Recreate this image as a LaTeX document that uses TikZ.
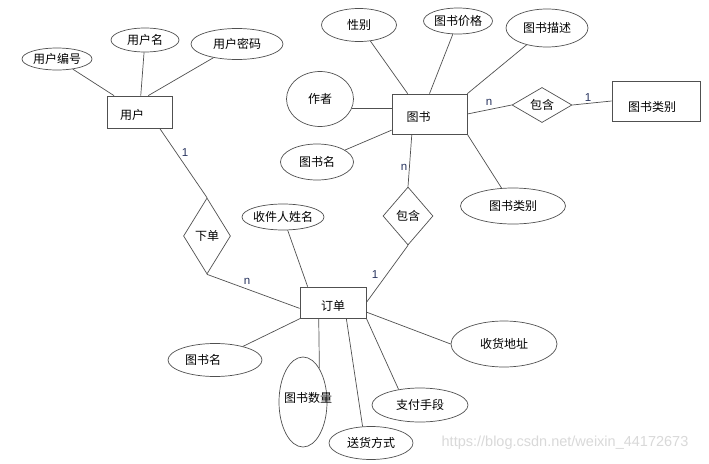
\documentclass[tikz,border=0pt]{standalone}
\usepackage{fontspec}
\newfontfamily\cjk{Noto Sans CJK SC}
\setsansfont{Liberation Sans}
\usetikzlibrary{shapes.geometric}
\definecolor{ln}{RGB}{80,80,80}
\definecolor{cardc}{RGB}{40,52,95}
\tikzset{
ent/.style={draw=ln,rectangle,inner sep=0pt,font=\fontsize{12}{14}\selectfont\cjk},
attr/.style={draw=ln,ellipse,inner sep=0pt,font=\fontsize{12}{14}\selectfont\cjk},
rel/.style={draw=ln,diamond,inner sep=0pt,font=\fontsize{12}{14}\selectfont\cjk},
cardlbl/.style={text=cardc,inner sep=0pt,font=\fontsize{11.5}{13}\selectfont\sffamily},
conn/.style={draw=ln,line width=0.7pt},
every label/.style={inner sep=0pt,font=\fontsize{12}{14}\selectfont\cjk}
}

\begin{document}
\begin{tikzpicture}[x=1pt,y=-1pt,line width=0.7pt]
\useasboundingbox[fill=white] (0,0) rectangle (709,463);
\node[ent,minimum width=65,minimum height=32,label={[xshift=-7.5pt,yshift=-3pt]center:用户}] (yh) at (139.5,112) {};
\node[attr,minimum width=70,minimum height=22,label=center:用户编号] (yhbh) at (57,59) {};
\node[attr,minimum width=68,minimum height=24,label=center:用户名] (yhm) at (145,40) {};
\node[attr,minimum width=92,minimum height=31,label=center:用户密码] (yhmm) at (237,44) {};
\node[ent,minimum width=75,minimum height=40,label={[xshift=-11pt,yshift=-3pt]center:图书}] (ts) at (429.5,114) {};
\node[attr,minimum width=75,minimum height=33,label=center:性别] (xb) at (359,25) {};
\node[attr,minimum width=69,minimum height=26,label=center:图书价格] (tsjg) at (458,21) {};
\node[attr,minimum width=82,minimum height=38,label=center:图书描述] (tsms) at (547,28) {};
\node[attr,minimum width=67,minimum height=55,label=center:作者] (zz) at (320,99) {};
\node[attr,minimum width=73,minimum height=36,label=center:图书名] (tsm) at (317,162) {};
\node[rel,minimum width=60,minimum height=35] (bh1) at (542,105) {包含};
\node[ent,minimum width=88,minimum height=40,label={[xshift=-4pt,yshift=-6pt]center:图书类别}] (tslb) at (656,101) {};
\node[attr,minimum width=105,minimum height=36,label=center:图书类别] (tslbA) at (513,206) {};
\node[rel,minimum width=50,minimum height=58] (bh2) at (408,216) {包含};
\node[rel,minimum width=47,minimum height=76] (xd) at (207,236) {下单};
\node[ent,minimum width=66,minimum height=31,label={[yshift=-3pt]center:订单}] (dd) at (333,302.5) {};
\node[attr,minimum width=82,minimum height=26,label=center:收件人姓名] (sjr) at (283,217) {};
\node[attr,minimum width=94,minimum height=33,label={[xshift=-12pt]center:图书名}] (tsm2) at (215,360) {};
\node[attr,minimum width=48,minimum height=90,label={[xshift=5pt,yshift=4pt]center:图书数量}] (tssl) at (303,402) {};
\node[attr,minimum width=84,minimum height=33,label=center:送货方式] (shfs) at (371,443) {};
\node[attr,minimum width=96,minimum height=34,label=center:支付手段] (zfsd) at (420,405) {};
\node[attr,minimum width=106,minimum height=46,label=center:收货地址] (shdz) at (504,344) {};

\draw[conn] (yhbh) -- (yh);
\draw[conn] (yhm) -- (yh);
\draw[conn] (yhmm) -- (yh.62);
\draw[conn] (yh.-39) -- (xd.north);
\draw[conn] (xd.south) -- (dd.190);
\draw[conn] (sjr) -- (dd.148);
\draw[conn] (ts.-131) -- (bh2.north);
\draw[conn] (bh2.south) -- (dd.east);
\draw[conn] (tsm2) -- (dd);
\draw[conn] (dd.-132) -- (tssl.64.5);
\draw[conn] (dd.-50) -- (shfs.117);
\draw[conn] (dd.south east) -- (zfsd.144);
\draw[conn] (dd.-16) -- (shdz.west);
\draw[conn] (ts.east) -- (bh1.west);
\draw[conn] (bh1.east) -- (tslb.west);
\draw[conn] (ts.south east) -- (tslbA);
\draw[conn] (xb) -- (ts.137);
\draw[conn] (tsjg) -- (ts.north);
\draw[conn] (tsms) -- (ts.north east);
\draw[conn] (zz.-17) -- (zz.-17 -| ts.west);
\draw[conn] (tsm) -- (ts);

\node[cardlbl] (c1) at (185,153) {1};
\node[cardlbl] (c2) at (247,281) {n};
\node[cardlbl] (c3) at (404,167) {n};
\node[cardlbl] (c4) at (375,275) {1};
\node[cardlbl] (c5) at (489,102) {n};
\node[cardlbl] (c6) at (588,98) {1};

\node[text=gray!30,inner sep=0pt,font=\fontsize{14.5}{16}\selectfont\sffamily] (wm) at (565,443) {https://blog.csdn.net/weixin\_44172673};
\end{tikzpicture}
\end{document}
